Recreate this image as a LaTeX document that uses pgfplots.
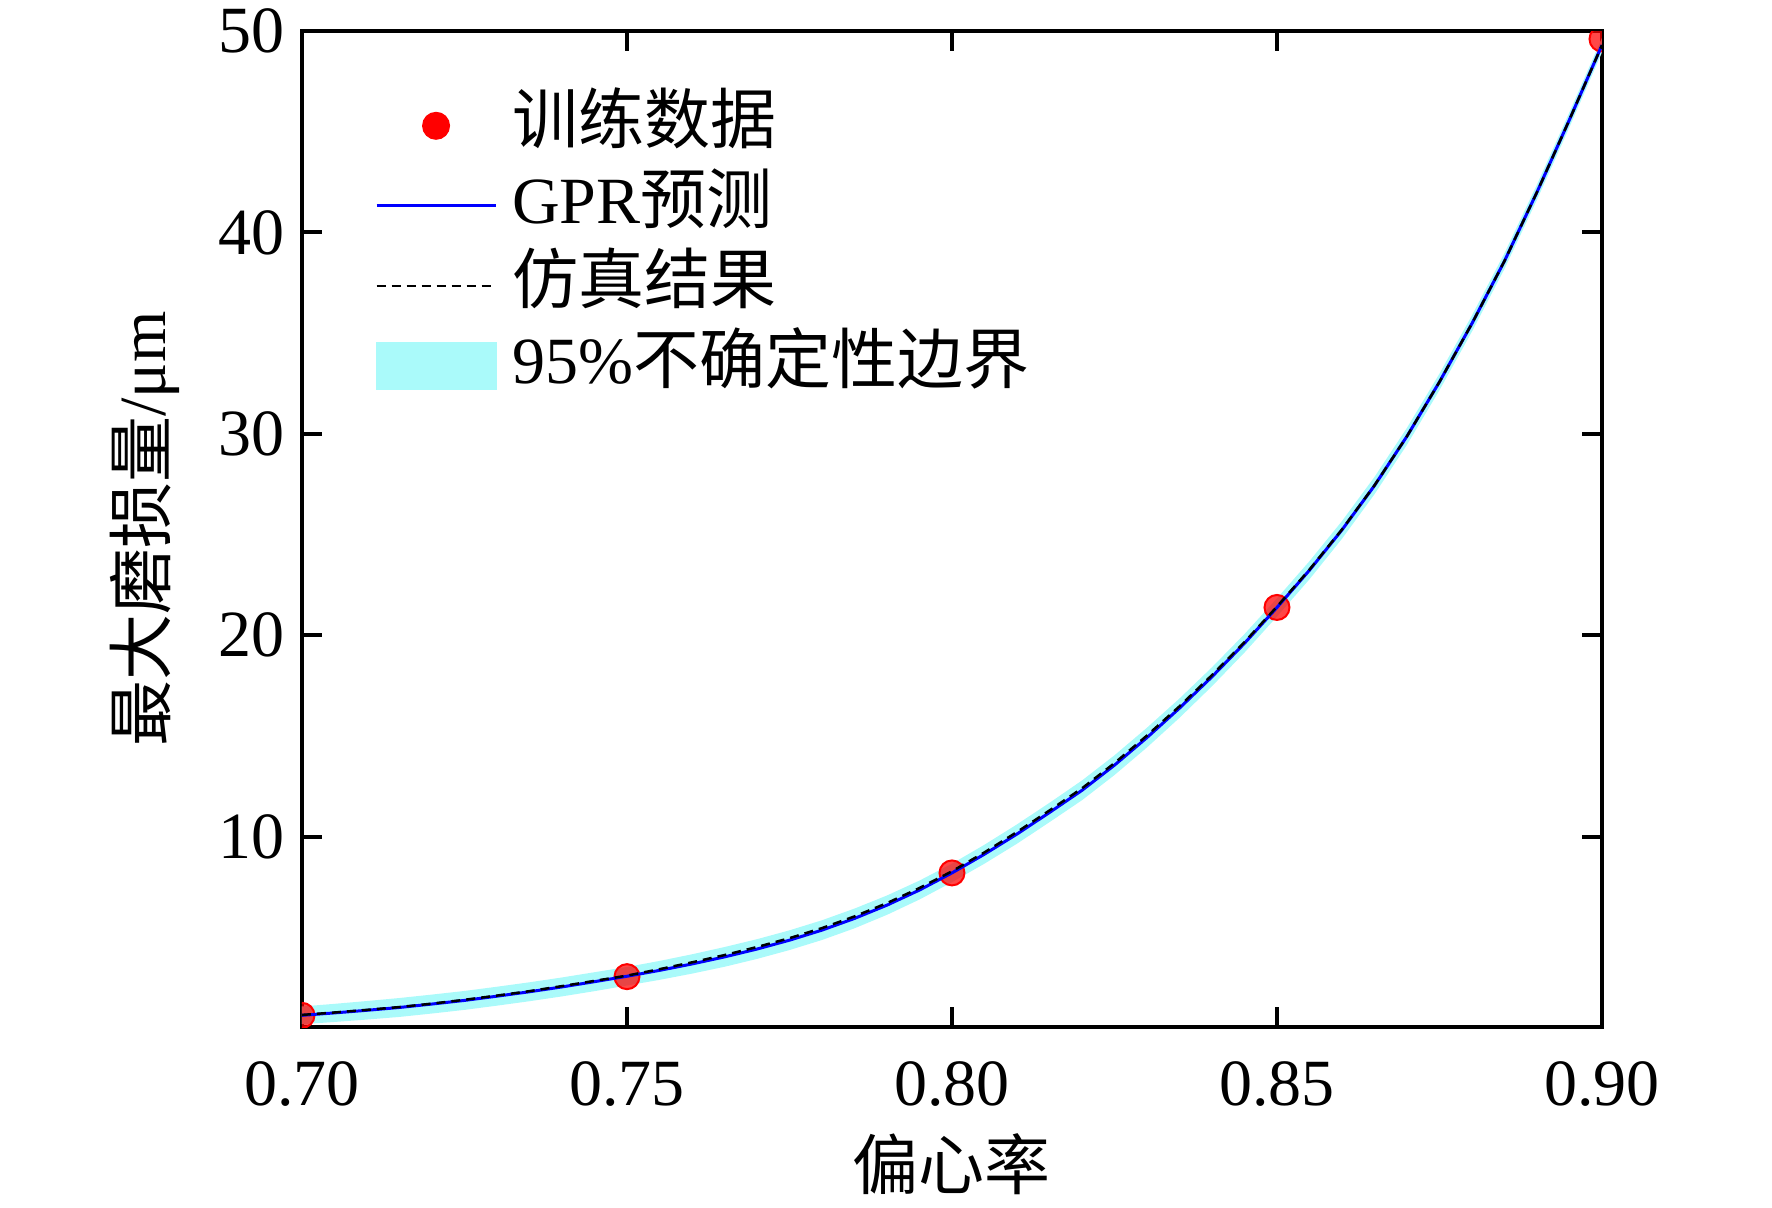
\documentclass[border=0pt]{standalone}
\usepackage{fontspec}
\setmainfont{Liberation Serif}
\newfontfamily\cjk{Noto Sans CJK SC}
\usepackage{pgfplots}
\pgfplotsset{compat=1.18}
\usepgfplotslibrary{fillbetween}
\usepackage{pgfplotstable}
\definecolor{bandc}{RGB}{170,250,250}
\newcommand{\fs}{\fontsize{13.2}{15.8}\selectfont}

\pgfplotstableread{
x mean up lo sim
0.700 1.13 1.57 0.69 1.15
0.705 1.25 1.70 0.80 1.27
0.710 1.38 1.84 0.92 1.40
0.715 1.52 1.99 1.05 1.54
0.720 1.69 2.16 1.22 1.71
0.725 1.87 2.34 1.40 1.90
0.730 2.08 2.55 1.61 2.11
0.735 2.30 2.77 1.83 2.33
0.740 2.54 3.01 2.07 2.58
0.745 2.80 3.27 2.33 2.84
0.750 3.07 3.53 2.61 3.10
0.755 3.36 3.83 2.89 3.42
0.760 3.68 4.16 3.20 3.76
0.765 4.03 4.52 3.54 4.12
0.770 4.42 4.91 3.93 4.52
0.775 4.86 5.35 4.37 4.96
0.780 5.36 5.85 4.87 5.46
0.785 5.94 6.43 5.45 6.04
0.790 6.60 7.08 6.12 6.70
0.795 7.35 7.82 6.88 7.45
0.800 8.20 8.66 7.74 8.28
0.805 9.13 9.60 8.66 9.22
0.810 10.13 10.61 9.65 10.23
0.815 11.20 11.68 10.72 11.30
0.820 12.30 12.79 11.81 12.40
0.825 13.55 14.04 13.06 13.65
0.830 14.92 15.41 14.43 15.02
0.835 16.38 16.86 15.90 16.47
0.840 17.94 18.41 17.47 18.02
0.845 19.60 20.06 19.14 19.66
0.850 21.38 21.83 20.93 21.42
0.855 23.23 23.68 22.78 23.26
0.860 25.23 25.67 24.79 25.25
0.865 27.43 27.86 27.00 27.44
0.870 29.88 30.30 29.46 29.88
0.875 32.58 32.99 32.17 32.58
0.880 35.48 35.88 35.08 35.48
0.885 38.58 38.97 38.19 38.58
0.890 42.00 42.38 41.62 42.00
0.895 45.60 45.97 45.23 45.60
0.900 49.30 49.66 48.94 49.30
}\gpr

\begin{document}
\begin{tikzpicture}
\begin{axis}[
  scale only axis, width=260pt, height=199.2pt,
  xmin=0.7, xmax=0.9, ymin=0.55, ymax=50,
  xtick={0.7,0.75,0.8,0.85,0.9}, ytick={10,20,30,40,50},
  tick align=inside, major tick length=4pt,
  axis line style={line width=0.8pt},
  every tick/.style={black, line width=0.8pt},
  clip mode=individual, clip marker paths=true,
  /pgf/number format/assume math mode=true,
  xticklabel style={yshift=-3.4pt, /pgf/number format/.cd, fixed, fixed zerofill, precision=2},
  tick label style={font=\fs},
  xlabel={\cjk 偏心率}, ylabel={{\cjk 最大磨损量}/μm},
  label style={font=\fs},
  xlabel style={at={(axis description cs:0.5,-0.1376)}, anchor=center},
  ylabel style={at={(axis description cs:-0.1208,0.5)}, anchor=center},
  legend cell align=left,
  legend style={draw=none, fill=none, font=\fs,
    at={(axis description cs:0.0439,0.951)}, anchor=north west,
    nodes={inner sep=1pt, text height=9.5pt, text depth=2.5pt},
    row sep=2pt,
    /tikz/every odd column/.append style={column sep=2pt}},
]
\addplot[draw=none, name path=up, forget plot] table[x=x,y=up]{\gpr};
\addplot[draw=none, name path=lo, forget plot] table[x=x,y=lo]{\gpr};
\addplot[fill=bandc, draw=none, forget plot] fill between[of=up and lo];
\addplot[red, only marks, mark=*, mark size=2.5pt, mark options={fill=red, draw=none, fill opacity=0.72},
  legend image code/.code={\fill[red] (11.9pt,0pt) circle (2.6pt);}]
  coordinates {(0.7,1.13) (0.75,3.05) (0.8,8.2) (0.85,21.38) (0.9,49.6)};
\addplot[blue, line width=0.6pt,
  legend image code/.code={\draw[blue, line width=0.6pt] (0pt,0pt) -- (23.8pt,0pt);}]
  table[x=x,y=mean]{\gpr};
\addplot[black, line width=0.5pt, dash pattern=on 1.8pt off 1.2pt,
  legend image code/.code={\draw[black, line width=0.5pt, dash pattern=on 1.8pt off 1.2pt] (0pt,0pt) -- (23.8pt,0pt);}]
  table[x=x,y=sim]{\gpr};
\addlegendimage{legend image code/.code={\fill[bandc] (0pt,-4.6pt) rectangle (23.8pt,4.6pt);}}
\legend{{\cjk 训练数据}, GPR{\cjk 预测}, {\cjk 仿真结果}, 95\%{\cjk 不确定性边界}}
\end{axis}
\pgfresetboundingbox
\path (-60.4pt,-36.2pt) rectangle (294pt,205.4pt);
\end{tikzpicture}
\end{document}
